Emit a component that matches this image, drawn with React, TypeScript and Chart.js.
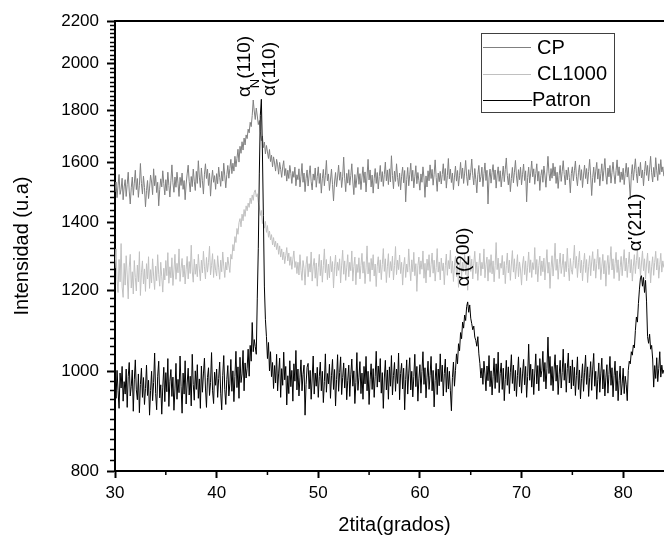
import { useEffect, useRef } from "react";
import { Chart, registerables } from "chart.js";
Chart.register(...registerables);

const FAMILY = "'Liberation Sans', Arial, Helvetica, sans-serif";

// 2theta from 30.0 to 84.0, step 0.1
const X_START = 30;
const X_STEP = 0.1;

const CP = [
  1498,1532,1479,1521,1558,1490,1507,1545,1472,1515,
  1540,1483,1524,1566,1501,1458,1512,1549,1487,1528,
  1573,1506,1544,1480,1521,1597,1527,1491,1552,1513,
  1449,1503,1537,1476,1511,1556,1532,1489,1578,1519,
  1554,1496,1531,1452,1507,1543,1515,1571,1526,1488,
  1540,1502,1566,1520,1481,1536,1592,1529,1497,1549,
  1514,1566,1528,1483,1548,1520,1563,1507,1537,1472,
  1525,1560,1591,1534,1498,1551,1516,1577,1535,1503,
  1569,1527,1607,1549,1513,1581,1536,1491,1559,1596,
  1544,1577,1520,1562,1484,1539,1573,1531,1554,1507,
  1561,1526,1584,1548,1517,1569,1535,1598,1553,1512,
  1558,1590,1545,1579,1612,1561,1598,1570,1623,1585,
  1615,1649,1602,1660,1634,1677,1646,1691,1665,1703,
  1689,1725,1711,1752,1735,1779,1842,1797,1763,1809,
  1777,1743,1759,1715,1681,1699,1655,1676,1632,1663,
  1639,1615,1648,1604,1627,1585,1621,1599,1570,1612,
  1592,1559,1601,1576,1548,1585,1607,1554,1579,1535,
  1573,1544,1590,1562,1527,1569,1548,1584,1519,1557,
  1540,1578,1515,1552,1597,1531,1563,1499,1545,1574,
  1518,1556,1589,1533,1505,1560,1538,1581,1514,1550,
  1585,1527,1562,1494,1543,1576,1519,1555,1608,1536,
  1560,1503,1539,1577,1524,1468,1532,1565,1516,1549,
  1591,1538,1567,1513,1550,1620,1545,1499,1562,1528,
  1575,1521,1554,1596,1532,1489,1558,1513,1546,1583,
  1524,1561,1506,1549,1585,1530,1567,1498,1553,1612,
  1539,1574,1515,1556,1494,1543,1579,1527,1565,1508,
  1551,1590,1533,1568,1517,1559,1602,1536,1574,1523,
  1578,1532,1625,1555,1509,1570,1534,1596,1548,1517,
  1563,1505,1552,1584,1529,1572,1465,1541,1583,1519,
  1557,1598,1535,1573,1512,1550,1589,1526,1565,1537,
  1504,1560,1531,1585,1546,1480,1553,1515,1571,1536,
  1592,1544,1576,1521,1559,1610,1548,1500,1563,1533,
  1569,1525,1558,1596,1537,1579,1511,1554,1615,1543,
  1577,1530,1563,1506,1549,1588,1535,1572,1518,1555,
  1601,1544,1581,1527,1563,1608,1552,1520,1575,1539,
  1566,1613,1555,1522,1579,1541,1495,1558,1590,1532,
  1550,1584,1516,1561,1599,1537,1573,1458,1546,1577,
  1528,1565,1593,1540,1574,1511,1556,1585,1534,1571,
  1515,1552,1588,1533,1576,1617,1555,1522,1561,1499,
  1544,1583,1529,1566,1608,1553,1517,1575,1540,1584,
  1522,1559,1595,1537,1571,1465,1548,1584,1529,1563,
  1606,1550,1578,1524,1561,1596,1535,1569,1503,1554,
  1575,1531,1588,1556,1514,1567,1623,1562,1536,1579,
  1545,1598,1553,1585,1527,1566,1510,1555,1590,1534,
  1568,1607,1558,1522,1574,1539,1583,1548,1495,1561,
  1585,1536,1571,1606,1550,1519,1564,1592,1538,1575,
  1513,1556,1591,1544,1579,1525,1568,1612,1553,1486,
  1547,1584,1530,1570,1601,1542,1578,1519,1561,1596,
  1535,1573,1615,1556,1524,1581,1550,1590,1528,1565,
  1602,1559,1526,1572,1610,1554,1585,1531,1567,1540,
  1580,1523,1561,1598,1549,1583,1532,1475,1557,1593,
  1538,1576,1614,1562,1529,1585,1553,1601,1546,1574,
  1519,1568,1606,1555,1590,1536,1577,1623,1564,1532,
  1583,1549,1618,1571,1537,1596,1558,1611,1567,1585,
  1552,
];

const CL1000 = [
  1262,1318,1231,1195,1287,1224,1334,1210,1182,1276,
  1215,1298,1243,1178,1265,1302,1207,1252,1191,1284,
  1236,1199,1271,1224,1310,1187,1249,1283,1218,1260,
  1198,1275,1232,1295,1206,1258,1221,1289,1240,1203,
  1268,1227,1301,1245,1212,1279,1238,1196,1262,1229,
  1284,1241,1307,1220,1266,1235,1292,1214,1257,1302,
  1231,1276,1249,1318,1225,1262,1290,1237,1271,1218,
  1259,1296,1232,1281,1247,1329,1254,1223,1288,1245,
  1274,1238,1302,1260,1227,1285,1249,1311,1266,1232,
  1293,1251,1279,1326,1243,1270,1304,1236,1287,1256,
  1240,1298,1263,1231,1285,1252,1309,1268,1236,1279,
  1257,1294,1271,1250,1302,1288,1331,1312,1355,1337,
  1380,1362,1398,1411,1385,1425,1404,1440,1418,1452,
  1436,1461,1447,1478,1459,1488,1470,1497,1505,1482,
  1492,1463,1448,1421,1437,1395,1412,1381,1402,1368,
  1389,1353,1372,1345,1361,1330,1352,1324,1341,1316,
  1335,1302,1327,1294,1318,1286,1309,1275,1298,1322,
  1283,1306,1270,1295,1259,1288,1312,1264,1281,1247,
  1279,1243,1301,1256,1228,1284,1262,1215,1273,1296,
  1238,1275,1251,1309,1226,1268,1290,1234,1277,1212,
  1263,1302,1241,1285,1223,1270,1318,1249,1287,1230,
  1274,1235,1296,1252,1281,1207,1266,1300,1240,1279,
  1256,1289,1221,1271,1314,1245,1283,1228,1265,1301,
  1238,1279,1255,1312,1226,1267,1294,1216,1273,1250,
  1292,1232,1270,1305,1248,1281,1219,1263,1327,1246,
  1278,1225,1290,1257,1301,1240,1274,1211,1268,1295,
  1249,1286,1230,1273,1319,1253,1289,1222,1266,1304,
  1236,1281,1255,1297,1229,1270,1325,1244,1285,1258,
  1300,1247,1279,1215,1268,1293,1236,1274,1251,1318,
  1263,1227,1286,1252,1308,1241,1275,1198,1269,1294,
  1245,1283,1259,1312,1234,1276,1221,1288,1256,1301,
  1237,1272,1306,1248,1285,1226,1264,1319,1251,1280,
  1229,1291,1255,1277,1216,1269,1303,1242,1284,1260,
  1314,1248,1282,1225,1271,1296,1238,1275,1209,1263,
  1290,1236,1279,1252,1307,1244,1283,1201,1262,1298,
  1253,1288,1232,1276,1311,1247,1280,1228,1269,1305,
  1241,1279,1260,1318,1235,1272,1294,1226,1287,1250,
  1301,1246,1283,1224,1269,1337,1258,1291,1233,1276,
  1262,1299,1243,1281,1219,1270,1306,1249,1285,1228,
  1274,1313,1251,1289,1232,1266,1301,1238,1280,1257,
  1215,1271,1296,1244,1283,1227,1265,1309,1250,1286,
  1236,1278,1258,1322,1245,1287,1224,1270,1297,1241,
  1283,1252,1291,1229,1274,1316,1248,1279,1206,1263,
  1298,1240,1277,1335,1256,1288,1231,1272,1306,1247,
  1269,1303,1238,1281,1252,1320,1264,1227,1290,1258,
  1245,1284,1329,1262,1296,1236,1278,1311,1249,1285,
  1227,1273,1305,1250,1287,1222,1266,1298,1241,1280,
  1310,1255,1289,1234,1276,1317,1259,1293,1230,1268,
  1302,1246,1284,1212,1271,1299,1244,1282,1325,1257,
  1289,1233,1275,1308,1250,1286,1227,1264,1296,1241,
  1280,1316,1254,1291,1236,1273,1309,1249,1287,1226,
  1268,1301,1247,1284,1318,1260,1293,1238,1277,1312,
  1255,1289,1232,1274,1306,1248,1283,1221,1266,1295,
  1242,1279,1311,1257,1290,1234,1272,1305,1251,1283,
  1264,
];

const PATRON = [
  985,942,1003,958,921,997,964,1012,936,978,
  951,1006,923,989,1021,947,968,1004,915,982,
  1027,960,939,995,912,972,1008,944,987,929,
  963,1015,948,981,907,959,1001,937,976,1043,
  952,918,990,1024,943,971,909,966,1010,935,
  998,956,1030,925,979,1005,946,988,917,962,
  1019,940,983,954,1036,968,911,997,951,1025,
  930,975,1008,949,990,926,1040,972,938,1002,
  961,1016,942,984,921,1013,955,995,1031,964,
  923,987,1009,948,976,1044,958,931,999,970,
  1006,944,985,1022,953,918,992,1037,961,929,
  983,1014,947,973,1028,957,1002,935,989,1047,
  965,1011,942,1033,976,995,1049,958,1020,986,
  1008,1052,990,1061,1024,1117,1046,1075,1058,1040,
  1180,1320,1560,1780,1845,1650,1420,1210,1125,1082,
  1030,1068,1002,1046,989,1021,963,1014,975,1040,
  958,997,1031,944,1007,970,1045,982,1012,928,
  991,952,1025,967,1003,936,1018,979,1049,960,
  1006,947,988,1027,958,994,1015,907,972,1010,
  1019,962,1003,940,986,1036,951,997,968,1010,
  944,989,1022,958,1001,933,978,1041,955,996,
  973,1017,942,991,1028,961,1005,926,983,1039,
  957,998,1034,950,987,1020,964,1008,939,981,
  1015,946,993,1029,968,1002,931,976,1044,959,
  988,1023,952,997,940,1012,973,1035,958,1001,
  929,982,1018,961,1007,944,990,1047,966,1013,
  977,1030,953,998,921,986,1026,960,1004,940,
  1011,968,1037,949,992,1021,957,1006,974,1043,
  939,996,1019,962,1008,918,983,1027,951,997,
  1032,960,1001,945,989,1040,967,1012,936,984,
  1016,953,1000,1046,972,1009,943,988,1024,961,
  992,1035,958,1003,924,981,1019,950,1006,969,
  1041,978,1015,947,996,1029,955,1010,962,1001,
  958,916,987,1022,968,1003,1041,1018,1065,1048,
  1092,1077,1118,1103,1136,1122,1158,1170,1143,1162,
  1128,1114,1099,1108,1081,1073,1059,1082,1041,1019,
  986,1008,972,1024,995,958,1013,980,1037,967,
  1002,949,990,1031,963,1018,976,1045,954,996,
  1020,961,1008,937,983,1026,970,1011,952,999,
  1039,974,1015,958,1003,946,992,1034,967,1009,
  953,995,1028,971,1012,944,989,1064,981,1017,
  966,1006,950,997,1041,973,1014,958,1030,988,
  1003,1047,978,1021,962,1008,1081,996,1035,970,
  1012,958,1004,1039,979,1015,950,993,1026,964,
  998,1052,981,1019,955,1007,1043,975,1013,962,
  1027,969,1010,948,992,1034,961,1004,941,985,
  1018,957,999,1038,972,1011,946,987,1023,959,
  1006,1042,968,1001,940,983,1020,955,997,1031,
  962,1005,947,988,1016,953,994,1035,970,1009,
  945,991,1024,958,1002,937,980,1013,949,973,
  1008,952,990,971,937,1003,1024,1018,1046,1038,
  1062,1055,1097,1131,1118,1166,1204,1235,1241,1212,
  1236,1195,1228,1170,1082,1066,1088,1052,1061,1029,
  966,1014,985,1032,978,1007,1046,988,1015,996,
  1004,
];

const SERIES_NAMES = ["CP", "CL1000", "Patron"];
const SERIES_COLORS = ["#808080", "#c0c0c0", "#000000"];

const X_TICKS = [30, 40, 50, 60, 70, 80];
const X_MINOR = [35, 45, 55, 65, 75];
const Y_TICKS = [800, 1000, 1200, 1400, 1600, 1800, 2000, 2200];
const Y_MINOR_STEP = 20;

// Peak labels: base glyph, optional subscript, rest; position in data units (start of text)
const PEAK_LABELS = [
  { base: "α", sub: "N", rest: "(110)", x: 42.8, y: 1854 },
  { base: "α", sub: "", rest: "(110)", x: 45.25, y: 1859 },
  { base: "α'", sub: "", rest: "(200)", x: 64.27, y: 1211 },
  { base: "α'", sub: "", rest: "(211)", x: 81.23, y: 1311 },
];

const toPoints = (arr: number[]) =>
  arr.map((y, i) => ({ x: +(X_START + i * X_STEP).toFixed(2), y }));

const decorPlugin = {
  id: "decor",
  afterDraw(chart: any) {
    const { ctx, chartArea, scales } = chart;
    const xs = scales.x;
    const ys = scales.y;
    ctx.save();
    // top frame line
    ctx.strokeStyle = "#000";
    ctx.lineWidth = 2;
    ctx.beginPath();
    ctx.moveTo(chartArea.left - 1, chartArea.top);
    ctx.lineTo(chartArea.right, chartArea.top);
    ctx.stroke();
    // minor ticks y
    ctx.lineWidth = 1.5;
    ctx.beginPath();
    for (let v = Y_TICKS[0]; v <= Y_TICKS[Y_TICKS.length - 1]; v += Y_MINOR_STEP) {
      if (Y_TICKS.includes(v)) continue;
      const py = Math.round(ys.getPixelForValue(v)) + 0.5;
      ctx.moveTo(chartArea.left - 5, py);
      ctx.lineTo(chartArea.left, py);
    }
    ctx.stroke();
    // minor ticks x
    ctx.beginPath();
    for (const v of X_MINOR) {
      const px = xs.getPixelForValue(v);
      ctx.moveTo(px, chartArea.bottom);
      ctx.lineTo(px, chartArea.bottom + 4);
    }
    ctx.stroke();

    // legend
    ctx.lineWidth = 1;
    ctx.strokeStyle = "#404040";
    ctx.strokeRect(481.5, 33.5, 133, 79);
    const rows = [47, 73.5, 99.5];
    const textX = [537, 537, 532];
    ctx.font = `20px ${FAMILY}`;
    ctx.textBaseline = "middle";
    ctx.textAlign = "left";
    chart.data.datasets.forEach((ds: any, i: number) => {
      ctx.strokeStyle = ds.borderColor;
      ctx.lineWidth = 1;
      ctx.beginPath();
      ctx.moveTo(483, Math.round(rows[i]) + 0.5);
      ctx.lineTo(textX[i] === 532 ? 532 : 531, Math.round(rows[i]) + 0.5);
      ctx.stroke();
      ctx.fillStyle = "#000";
      ctx.fillText(ds.label, textX[i], rows[i] + 1);
    });

    // peak labels (rotated)
    ctx.fillStyle = "#000";
    for (const lab of PEAK_LABELS) {
      const px = xs.getPixelForValue(lab.x);
      const py = ys.getPixelForValue(lab.y);
      ctx.save();
      ctx.translate(px, py);
      ctx.rotate(-Math.PI / 2);
      ctx.textBaseline = "middle";
      ctx.textAlign = "left";
      ctx.font = `19px ${FAMILY}`;
      let pos = 0;
      ctx.fillText(lab.base, pos, 0);
      pos += ctx.measureText(lab.base).width;
      if (lab.sub) {
        ctx.font = `13px ${FAMILY}`;
        ctx.fillText(lab.sub, pos - 2, 10);
        pos += ctx.measureText(lab.sub).width - 2;
        ctx.font = `19px ${FAMILY}`;
      }
      ctx.fillText(lab.rest, pos, 0);
      ctx.restore();
    }
    ctx.restore();
  },
};

export default function App() {
  const ref = useRef<HTMLCanvasElement | null>(null);
  useEffect(() => {
    if (!ref.current) return;
    const seriesData = [CP, CL1000, PATRON];
    const chart = new Chart(ref.current, {
      type: "line",
      data: {
        datasets: seriesData.map((arr, i) => ({
          label: SERIES_NAMES[i],
          data: toPoints(arr),
          borderColor: SERIES_COLORS[i],
          backgroundColor: SERIES_COLORS[i],
          borderWidth: 1,
          pointRadius: 0,
          tension: 0,
          fill: false,
          order: i === 2 ? 0 : i + 1,
        })),
      },
      options: {
        responsive: false,
        animation: false,
        events: [],
        layout: { padding: { left: 0, top: 21, right: 0, bottom: 0 } },
        plugins: { legend: { display: false }, tooltip: { enabled: false } },
        scales: {
          x: {
            type: "linear",
            min: 30,
            max: 85,
            afterBuildTicks: (s: any) => {
              s.ticks = X_TICKS.map((v) => ({ value: v }));
            },
            afterFit: (s: any) => {
              s.height = 69;
            },
            grid: { drawOnChartArea: false, drawTicks: true, tickLength: 7, tickColor: "#000", tickWidth: 2 },
            border: { display: true, color: "#000", width: 2 },
            ticks: {
              color: "#000",
              font: { family: FAMILY, size: 17 },
              padding: 5,
              maxRotation: 0,
              autoSkip: false,
              callback: (v: any) => String(v),
            },
            title: {
              display: true,
              text: "2tita(grados)",
              color: "#000",
              font: { family: FAMILY, size: 20 },
              padding: { top: 0, bottom: 3 },
            },
          },
          y: {
            type: "logarithmic",
            min: 800,
            max: 2200,
            afterBuildTicks: (s: any) => {
              s.ticks = Y_TICKS.map((v) => ({ value: v }));
            },
            afterFit: (s: any) => {
              s.width = 115;
            },
            grid: { drawOnChartArea: false, drawTicks: true, tickLength: 8, tickColor: "#000", tickWidth: 2 },
            border: { display: true, color: "#000", width: 2 },
            ticks: {
              color: "#000",
              font: { family: FAMILY, size: 17 },
              padding: 8,
              autoSkip: false,
              callback: (v: any) => String(v),
            },
            title: {
              display: true,
              text: "Intensidad (u.a)",
              color: "#000",
              font: { family: FAMILY, size: 20 },
              padding: { top: 10, bottom: 0 },
            },
          },
        },
      },
      plugins: [decorPlugin],
    } as any);
    return () => chart.destroy();
  }, []);
  return (
    <div
      style={{
        position: "absolute",
        left: 0,
        top: 0,
        width: 664,
        height: 540,
        overflow: "hidden",
        background: "#fff",
      }}
    >
      <canvas ref={ref} width={674} height={540} style={{ width: 674, height: 540, display: "block" }} />
    </div>
  );
}
